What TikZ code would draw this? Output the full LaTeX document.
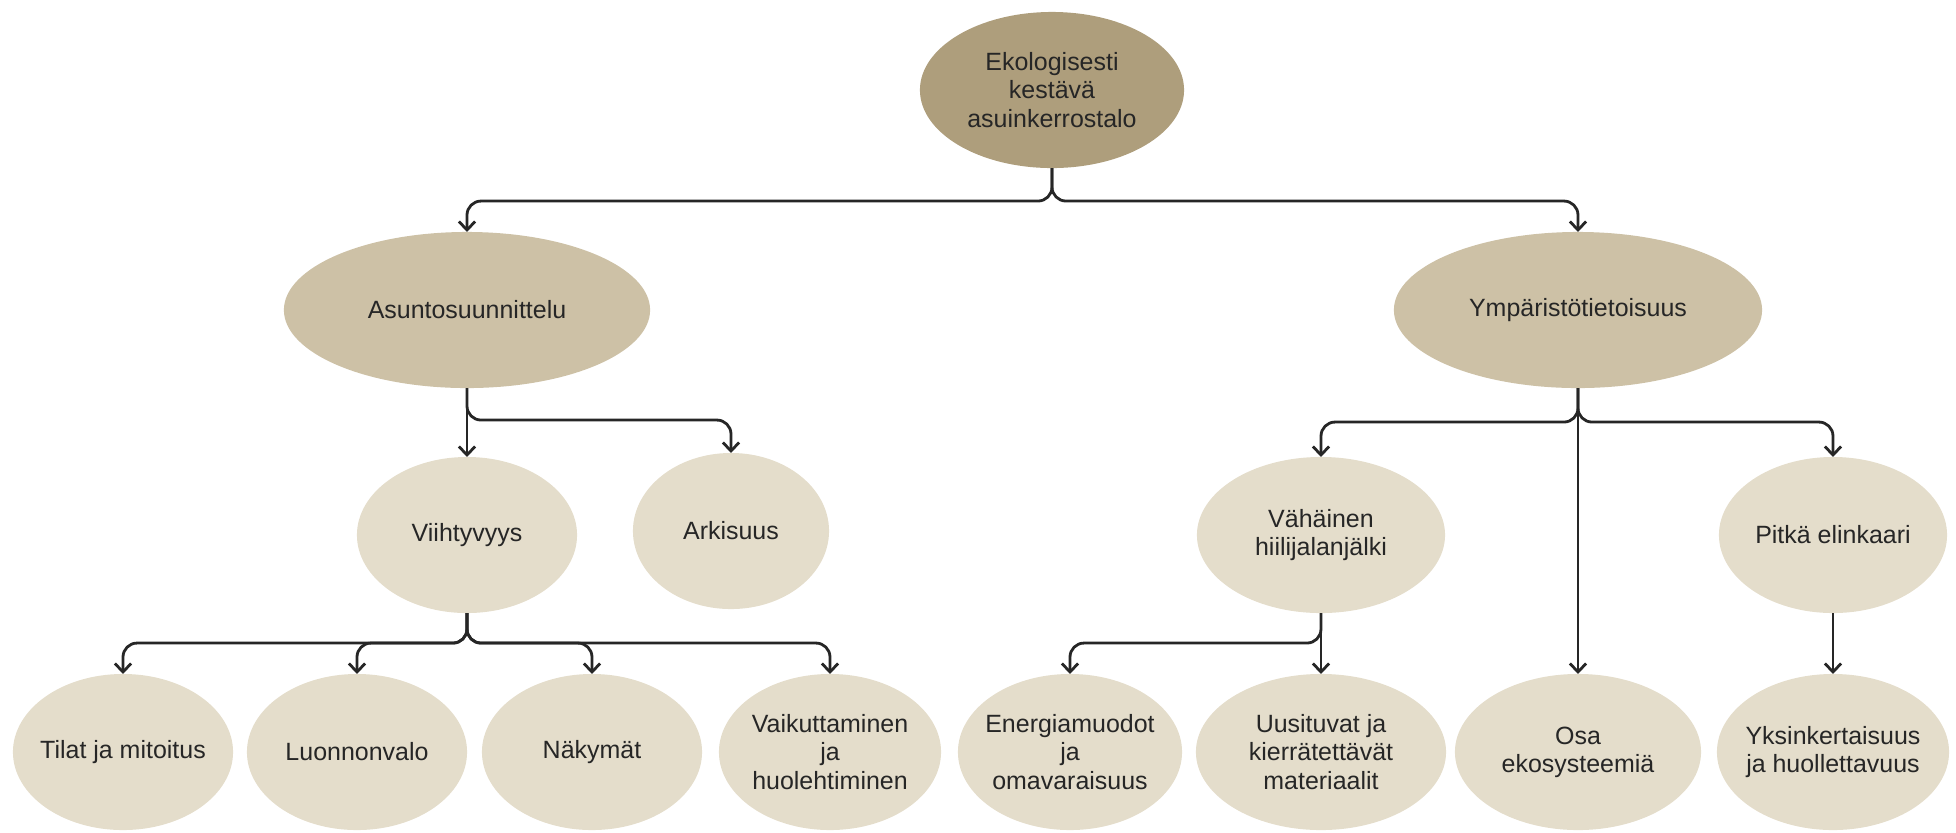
\documentclass[tikz,border=0pt]{standalone}
\usepackage{fontspec}
\setmainfont{Liberation Sans}
\usetikzlibrary{shapes.geometric,arrows.meta}
\definecolor{rootc}{HTML}{AE9E7C}
\definecolor{midc}{HTML}{CDC1A6}
\definecolor{leafc}{HTML}{E4DDCB}
\definecolor{inkc}{HTML}{262626}

\begin{document}
\begin{tikzpicture}[x=0.01cm,y=-0.01cm,
        bubble/.style={ellipse,inner sep=-0.4cm,outer sep=0pt,minimum height=1.56cm,
            align=center,text=inkc,font=\fontsize{7.1}{8}\selectfont},
        root/.style={bubble,fill=rootc},
        mid/.style={bubble,fill=midc},
        leaf/.style={bubble,fill=leafc},
        link/.style={draw=inkc,line width=0.8pt,rounded corners=0.14cm,
            -{Straight Barb[length=2.4pt,width=4.6pt]}}]
            \useasboundingbox (0,0) rectangle (1956,832);

            \node[root,minimum width=2.64cm] (talo) at (1052,90) {Ekologisesti\\kestävä\\asuinkerrostalo};

            \node[mid,minimum width=3.66cm] (asunto) at (467,310) {Asuntosuunnittelu};
            \node[mid,minimum width=3.68cm] (ymparisto) at (1578,310) {Ympäristötietoisuus};

            \node[leaf,minimum width=2.2cm] (viihtyvyys) at (467,535) {Viihtyvyys};
            \node[leaf,minimum width=1.96cm] (arkisuus) at (731,531) {Arkisuus};
            \node[leaf,minimum width=2.48cm] (vahainen) at (1321,535) {Vähäinen\\hiilijalanjälki};
            \node[leaf,minimum width=2.28cm] (pitka) at (1833,535) {Pitkä elinkaari};

            \node[leaf,minimum width=2.2cm] (tilat) at (123,752) {Tilat ja mitoitus};
            \node[leaf,minimum width=2.2cm] (luonnonvalo) at (357,752) {Luonnonvalo};
            \node[leaf,minimum width=2.2cm] (nakymat) at (592,752) {Näkymät};
            \node[leaf,minimum width=2.22cm] (vaikuttaminen) at (830,752) {Vaikuttaminen\\ja\\huolehtiminen};
            \node[leaf,minimum width=2.24cm] (energia) at (1070,752) {Energiamuodot\\ja\\omavaraisuus};
            \node[leaf,minimum width=2.5cm] (uusituvat) at (1321,752) {Uusituvat ja\\kierrätettävät\\materiaalit};
            \node[leaf,minimum width=2.46cm] (osa) at (1578,752) {Osa\\ekosysteemiä};
            \node[leaf,minimum width=2.32cm] (yksinkertaisuus) at (1833,752) {Yksinkertaisuus\\ja huollettavuus};

            % taso 1
            \draw[link] (talo.south) -- ++(0,33) -| (asunto.north);
            \draw[link] (talo.south) -- ++(0,33) -| (ymparisto.north);

            % asuntosuunnittelu
            \draw[link] (asunto.south) -- (viihtyvyys.north);
            \draw[link] (asunto.south) -- ++(0,32) -| (arkisuus.north);
            \foreach \kohde in {tilat,luonnonvalo,nakymat,vaikuttaminen}
                \draw[link] (viihtyvyys.south) -- ++(0,30) -| (\kohde.north);

            % ympäristötietoisuus
            \draw[link] (ymparisto.south) -- ++(0,34) -| (vahainen.north);
            \draw[link] (ymparisto.south) -- ++(0,34) -| (pitka.north);
            \draw[link] (ymparisto.south) -- (osa.north);
            \draw[link] (vahainen.south) -- ++(0,30) -| (energia.north);
            \draw[link] (vahainen.south) -- (uusituvat.north);
            \draw[link] (pitka.south) -- (yksinkertaisuus.north);
        \end{tikzpicture}
\end{document}
